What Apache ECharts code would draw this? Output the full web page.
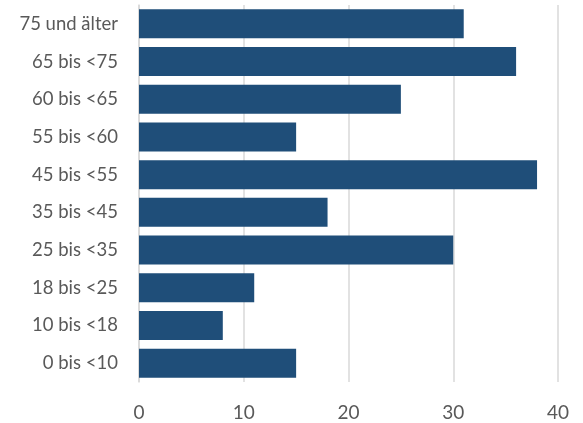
<!DOCTYPE html>
<html><head><meta charset="utf-8">
<script src="https://cdn.jsdelivr.net/npm/echarts@6/dist/echarts.min.js"></script>
<style>html,body{margin:0;padding:0;background:#fff}#c{width:583px;height:423px}</style>
</head><body><div id="c"></div>
<script>
const categories = ['0 bis <10','10 bis <18','18 bis <25','25 bis <35','35 bis <45','45 bis <55','55 bis <60','60 bis <65','65 bis <75','75 und älter'];
const values = [15, 8, 11, 30, 18, 38, 15, 25, 36, 31];
const xTicks = [0, 10, 20, 30, 40];
const chart = echarts.init(document.getElementById('c'));
chart.setOption({
  animation: false,
  grid: {left: 139, right: 25, top: 5, bottom: 41},
  xAxis: {
    type: 'value', min: xTicks[0], max: xTicks[xTicks.length-1], interval: 10,
    axisLine: {show: false}, axisTick: {show: false},
    splitLine: {show: true, lineStyle: {color: '#d9d9d9', width: 1.5}},
    axisLabel: {color: '#595959', fontSize: 19, fontFamily: 'Lato', margin: 21}
  },
  yAxis: {
    type: 'category', data: categories,
    axisLine: {show: true, lineStyle: {color: '#d9d9d9', width: 1.5}}, axisTick: {show: false},
    axisLabel: {color: '#595959', fontSize: 18.5, fontFamily: 'Lato', margin: 21}
  },
  series: [{
    type: 'bar', data: values, barCategoryGap: '23%',
    itemStyle: {color: '#1f4e79'}
  }]
});
</script></body></html>
